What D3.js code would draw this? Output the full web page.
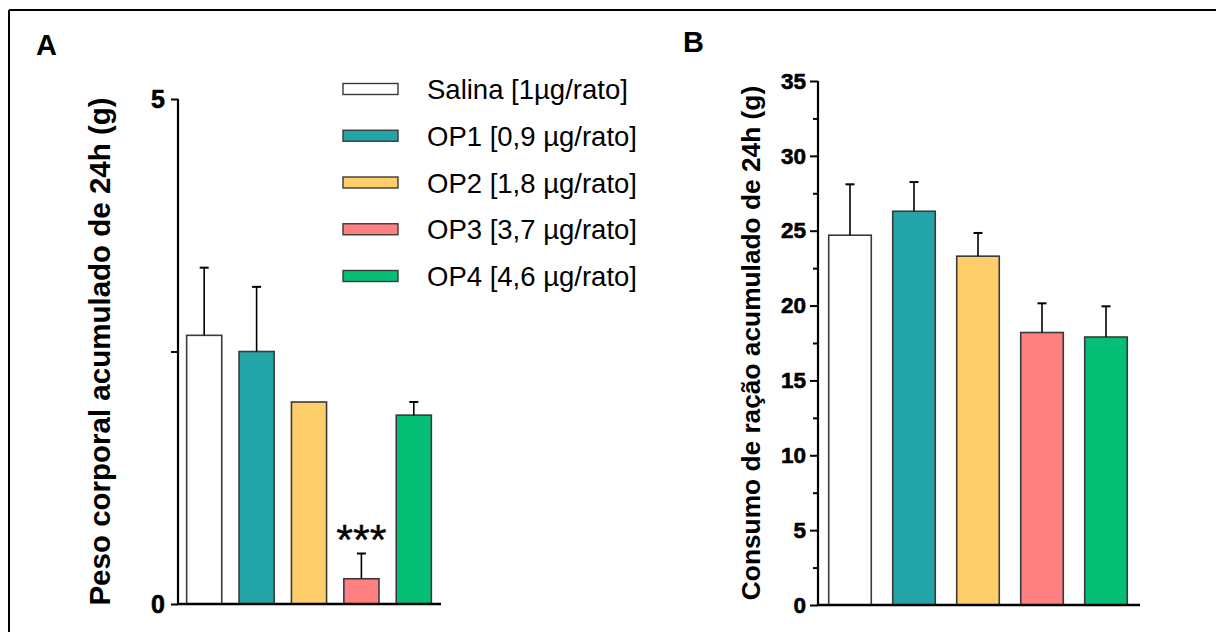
<!DOCTYPE html>
<html>
<head>
<meta charset="utf-8">
<script src="https://cdn.jsdelivr.net/npm/d3@7"></script>
<style>
  html, body { margin: 0; padding: 0; background: #fff; }
  svg { display: block; }
  text { font-family: "Liberation Sans", Arial, Helvetica, sans-serif; }
</style>
</head>
<body>
<svg id="chart" width="1216" height="632"></svg>
<script>
// ---------- data ----------
const groups = ["Salina [1µg/rato]", "OP1 [0,9 µg/rato]", "OP2 [1,8 µg/rato]", "OP3 [3,7 µg/rato]", "OP4 [4,6 µg/rato]"];
const groupColors = ["#FFFFFF", "#23A4A6", "#FDCE69", "#FF8080", "#06BF77"];

// Panel A: peso corporal acumulado de 24h (g)
const weightMean = [2.66, 2.50, 2.00, 0.25, 1.87];
const weightErr  = [0.67, 0.64, 0.00, 0.25, 0.13];
const weightTicks = [0, 5];
const weightMinorTicks = [2.5];
const weightSignif = ["", "", "", "***", ""];

// Panel B: consumo de ração acumulado de 24h (g)
const foodMean = [24.7, 26.3, 23.3, 18.2, 17.9];
const foodErr  = [3.4, 1.95, 1.55, 1.95, 2.05];
const foodTicks = [0, 5, 10, 15, 20, 25, 30, 35];
const foodMinorTicks = [2.5, 7.5, 12.5, 17.5, 22.5, 27.5, 32.5];

// ---------- drawing ----------
const svg = d3.select("#chart");
const font = "'Liberation Sans', Arial, Helvetica, sans-serif";

// outer frame (top and left edges visible)
svg.append("line").attr("x1", 9).attr("x2", 1216).attr("y1", 10).attr("y2", 10)
  .attr("stroke", "#000").attr("stroke-width", 2);
svg.append("line").attr("x1", 9).attr("x2", 9).attr("y1", 10).attr("y2", 632)
  .attr("stroke", "#000").attr("stroke-width", 2);

function panel(opts) {
  const g = svg.append("g");
  const x = d3.scaleBand().domain(groups).range([opts.x0, opts.x1])
    .paddingInner(opts.pad).paddingOuter(opts.pad / 2);
  const y = d3.scaleLinear().domain(opts.domain).range([opts.yBottom, opts.yTop]);

  // bars
  g.selectAll("rect.bar").data(groups).enter().append("rect")
    .attr("class", "bar")
    .attr("x", d => x(d))
    .attr("width", x.bandwidth())
    .attr("y", (d, i) => y(opts.mean[i]))
    .attr("height", (d, i) => y(0) - y(opts.mean[i]))
    .attr("fill", (d, i) => groupColors[i])
    .attr("stroke", "#3a3a3a")
    .attr("stroke-width", 1.6);

  // error bars (upper only)
  groups.forEach((d, i) => {
    if (opts.err[i] <= 0) return;
    const cx = x(d) + x.bandwidth() / 2;
    const yt = y(opts.mean[i] + opts.err[i]);
    g.append("line").attr("x1", cx).attr("x2", cx)
      .attr("y1", y(opts.mean[i])).attr("y2", yt)
      .attr("stroke", "#000").attr("stroke-width", 1.6);
    g.append("line").attr("x1", cx - opts.cap / 2).attr("x2", cx + opts.cap / 2)
      .attr("y1", yt).attr("y2", yt)
      .attr("stroke", "#000").attr("stroke-width", 2);
    if (opts.signif && opts.signif[i]) {
      g.append("text").attr("x", cx).attr("y", yt)
        .attr("text-anchor", "middle")
        .attr("font-size", 43).attr("font-family", font)
        .attr("stroke", "#000").attr("stroke-width", 0.4)
        .text(opts.signif[i]);
    }
  });

  // y axis
  const axisY = d3.axisLeft(y).tickValues(opts.ticks).tickFormat(d3.format("d"))
    .tickSize(opts.tickLen).tickPadding(opts.tickPad);
  const ay = g.append("g").attr("transform", `translate(${opts.x0},0)`).call(axisY);
  ay.select(".domain").attr("stroke", "#000").attr("stroke-width", 2.2)
    .attr("d", `M0,${opts.yTop}V${opts.yBottom}`);
  ay.selectAll(".tick line").attr("stroke", "#000").attr("stroke-width", 2);
  ay.selectAll(".tick text").attr("font-size", opts.tickFont).attr("font-weight", "bold")
    .attr("font-family", font).attr("fill", "#000")
    .attr("stroke", "#000").attr("stroke-width", 0.6);

  const axisMinor = d3.axisLeft(y).tickValues(opts.minor).tickFormat("").tickSize(opts.minorLen);
  const am = g.append("g").attr("transform", `translate(${opts.x0},0)`).call(axisMinor);
  am.select(".domain").remove();
  am.selectAll(".tick line").attr("stroke", "#000").attr("stroke-width", 2);

  // x axis baseline
  const axisX = d3.axisBottom(x).tickValues([]).tickSize(0);
  const ax = g.append("g").attr("transform", `translate(0,${y(0)})`).call(axisX);
  ax.select(".domain").attr("stroke", "#000").attr("stroke-width", 2.6)
    .attr("d", `M${opts.x0},0H${opts.xEnd}`);

  // y title
  g.append("text")
    .attr("transform", `translate(${opts.titleX},${(y(0) + y(opts.domain[1])) / 2 + opts.titleDy}) rotate(-90)`)
    .attr("text-anchor", "middle")
    .attr("font-size", opts.titleFont).attr("font-weight", "bold").attr("font-family", font)
    .text(opts.title);

  // panel letter
  g.append("text").attr("x", opts.letterX).attr("y", opts.letterY)
    .attr("font-size", 29).attr("font-weight", "bold").attr("font-family", font)
    .text(opts.letter);
  return { x, y };
}

panel({
  x0: 178, x1: 440, xEnd: 441, pad: 0.33, domain: [0, 5], yBottom: 604, yTop: 99,
  mean: weightMean, err: weightErr, cap: 9, signif: weightSignif,
  ticks: weightTicks, minor: weightMinorTicks, tickLen: 7, minorLen: 7, tickPad: 6, tickFont: 25,
  title: "Peso corporal acumulado de 24h (g)", titleFont: 29.5, titleX: 110, titleDy: 0,
  letter: "A", letterX: 36, letterY: 55
});

panel({
  x0: 818, x1: 1138, xEnd: 1140, pad: 0.335, domain: [0, 35], yBottom: 605, yTop: 81,
  mean: foodMean, err: foodErr, cap: 9,
  ticks: foodTicks, minor: foodMinorTicks, tickLen: 8, minorLen: 5, tickPad: 4, tickFont: 22.5,
  title: "Consumo de ração acumulado de 24h (g)", titleFont: 26.3, titleX: 760, titleDy: 0,
  letter: "B", letterX: 683, letterY: 52
});

// legend
const legend = svg.append("g");
const legY = d3.scalePoint().domain(groups).range([89, 276]);
groups.forEach((d, i) => {
  const cy = legY(d);
  legend.append("rect").attr("x", 343).attr("y", cy - 5.5).attr("width", 55).attr("height", 11)
    .attr("fill", groupColors[i]).attr("stroke", "#3a3a3a").attr("stroke-width", 1.4);
  legend.append("text").attr("x", 427).attr("y", cy + 10)
    .attr("font-size", 27.5).attr("font-family", font).attr("fill", "#000")
    .text(d);
});
</script>
</body>
</html>
